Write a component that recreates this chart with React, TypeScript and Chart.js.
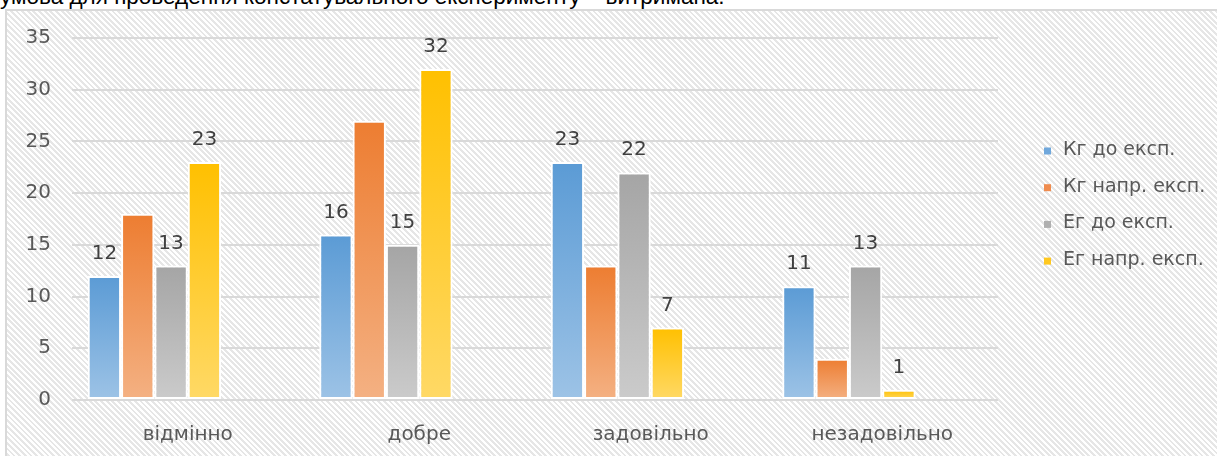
import React, { useEffect, useRef } from 'react';
import { Chart, registerables } from 'chart.js';

Chart.register(...registerables);

// ---- data ----
const categories = ['відмінно', 'добре', 'задовільно', 'незадовільно'];
const seriesNames = ['Кг до експ.', 'Кг напр. експ.', 'Ег до експ.', 'Ег напр. експ.'];
const kgBefore = [12, 16, 23, 11];
const kgAfter = [18, 27, 13, 4];
const egBefore = [13, 15, 22, 13];
const egAfter = [23, 32, 7, 1];
const seriesValues = [kgBefore, kgAfter, egBefore, egAfter];
const seriesShowsLabels = [true, false, true, true];
const yMin = 0;
const yMax = 35;
const yStep = 5;

// ---- style ----
const topColors = ['#5B9BD5', '#ED7D31', '#A5A5A5', '#FFC000'];
const bottomColors = ['#9DC3E6', '#F4B183', '#CBCBCB', '#FFD966'];
const legendColors = ['#70A8DC', '#EF8C4F', '#AFAFAF', '#FFC81F'];
const FONT = '"DejaVu Sans", sans-serif';
const headingText = 'умова для проведення констатувального експерименту – витримана.';

function gradientFill(i: number) {
  return (c: any) => {
    const chart = c.chart;
    if (c.type !== 'data' || c.raw == null || !chart.chartArea) return topColors[i];
    const ys = chart.scales.y;
    const yTop = ys.getPixelForValue(c.raw);
    const yBase = ys.getPixelForValue(0);
    if (!isFinite(yTop) || !isFinite(yBase) || yTop === yBase) return topColors[i];
    const g = chart.ctx.createLinearGradient(0, yTop, 0, yBase);
    g.addColorStop(0, topColors[i]);
    g.addColorStop(1, bottomColors[i]);
    return g;
  };
}

const valueLabels = {
  id: 'valueLabels',
  afterDatasetsDraw(chart: any) {
    const ctx = chart.ctx;
    ctx.save();
    ctx.font = `20px ${FONT}`;
    ctx.fillStyle = '#404040';
    ctx.textAlign = 'center';
    ctx.textBaseline = 'alphabetic';
    seriesValues.forEach((vals, di) => {
      if (!seriesShowsLabels[di]) return;
      const meta = chart.getDatasetMeta(di);
      meta.data.forEach((el: any, idx: number) => {
        if (vals[idx] == null) return;
        ctx.fillText(String(vals[idx]), el.x, el.y - 17);
      });
    });
    ctx.restore();
  },
};

const sideLegend = {
  id: 'sideLegend',
  afterDraw(chart: any) {
    const ctx = chart.ctx;
    const a = chart.chartArea;
    ctx.save();
    ctx.font = `19px ${FONT}`;
    ctx.textBaseline = 'middle';
    ctx.textAlign = 'left';
    seriesNames.forEach((name, i) => {
      const y = 139 + i * 36.7;
      ctx.fillStyle = legendColors[i];
      ctx.fillRect(a.right + 46, y - 2.5, 7, 7);
      ctx.fillStyle = '#595959';
      ctx.fillText(name, a.right + 65, y);
    });
    ctx.restore();
  },
};

export default function App() {
  const canvasRef = useRef<HTMLCanvasElement | null>(null);

  useEffect(() => {
    if (!canvasRef.current) return;
    const datasets: any[] = seriesValues.map((vals, i) => ({
      label: seriesNames[i],
      data: vals,
      backgroundColor: gradientFill(i),
      borderColor: '#FFFFFF',
      borderWidth: 2,
      borderSkipped: false,
      categoryPercentage: 0.864,
      barPercentage: 1,
    }));
    // two empty series slots (as in the original chart, the groups leave room on their right)
    datasets.push({ label: '', data: [], categoryPercentage: 0.864, barPercentage: 1 });
    datasets.push({ label: '', data: [], categoryPercentage: 0.864, barPercentage: 1 });

    const chart = new Chart(canvasRef.current, {
      type: 'bar',
      data: { labels: categories, datasets },
      options: {
        responsive: false,
        animation: false,
        layout: { padding: { top: 27, right: 219, bottom: 0, left: 0 } },
        plugins: {
          legend: { display: false },
          tooltip: { enabled: false },
        },
        scales: {
          x: {
            grid: { display: false },
            border: { display: false },
            ticks: { font: { family: FONT, size: 20 }, color: '#595959', padding: 15 },
            afterFit: (s: any) => { s.height = 56; },
          },
          y: {
            min: yMin,
            max: yMax,
            grid: { color: '#D9D9D9', lineWidth: 2, drawTicks: false },
            border: { display: false },
            ticks: { stepSize: yStep, font: { family: FONT, size: 20 }, color: '#595959', padding: 21 },
            afterFit: (s: any) => { s.width = 65; s.paddingTop = 0; s.paddingBottom = 0; },
          },
        },
      },
      plugins: [valueLabels, sideLegend],
    });
    return () => chart.destroy();
  }, []);

  return (
    <div style={{ position: 'relative', width: 1217, height: 456, overflow: 'hidden', background: '#fff' }}>
      <style>{'body{margin:0}'}</style>
      <div
        style={{
          position: 'absolute', left: 0, top: -15, whiteSpace: 'nowrap',
          fontFamily: '"Liberation Sans", Arial, sans-serif', fontSize: 22.5, color: '#000', lineHeight: '24px',
        }}
      >
        {headingText}
      </div>
      <div
        style={{
          position: 'absolute', left: 5, top: 9, width: 1230, height: 470,
          borderTop: '2px solid #D9D9D9', borderLeft: '2px solid #D9D9D9',
          background: 'repeating-linear-gradient(45deg, #FFFFFF 0px, #FFFFFF 2px, #E6E6E6 2px, #E6E6E6 4px)',
        }}
      />
      <canvas
        ref={canvasRef}
        width={1210}
        height={445}
        style={{ position: 'absolute', left: 7, top: 11, width: 1210, height: 445 }}
      />
    </div>
  );
}
